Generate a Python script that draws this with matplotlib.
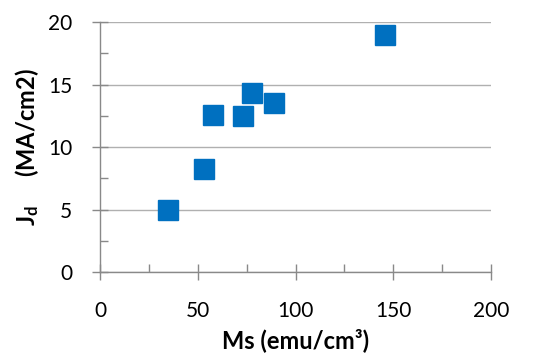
import matplotlib
matplotlib.use('Agg')
import matplotlib.pyplot as plt
from matplotlib.ticker import MultipleLocator

ms = [35, 53, 58, 73, 78, 89, 146]
jd = [5.0, 8.25, 12.55, 12.5, 14.35, 13.5, 19.0]

plt.rcParams['font.family'] = ['Lato', 'DejaVu Sans']
plt.rcParams['mathtext.fontset'] = 'custom'
plt.rcParams['mathtext.rm'] = 'Lato'
plt.rcParams['mathtext.bf'] = 'Lato:bold'

axis_gray = '#898989'
grid_gray = '#b0b0b0'

fig = plt.figure(figsize=(5.44, 3.55), dpi=100)
ax = fig.add_axes([0.1838, 0.2338, 0.7188, 0.7042])

ax.plot(ms, jd, linestyle='none', marker='s', markersize=14.5,
        color='#0070c0', markeredgecolor='#0070c0', zorder=3)

ax.set_xlim(0, 200)
ax.set_ylim(0, 20)
ax.xaxis.set_major_locator(MultipleLocator(50))
ax.xaxis.set_minor_locator(MultipleLocator(25))
ax.yaxis.set_major_locator(MultipleLocator(5))
ax.yaxis.set_minor_locator(MultipleLocator(2.5))

ax.grid(True, which='major', axis='y', color=grid_gray, linewidth=1)
ax.set_axisbelow(True)

for side in ['top', 'right']:
    ax.spines[side].set_visible(False)
for side in ['left', 'bottom']:
    ax.spines[side].set_color(axis_gray)
    ax.spines[side].set_linewidth(1)

ax.tick_params(which='major', direction='inout', length=12, width=1,
               color=axis_gray, labelsize=15, labelcolor='#000000')
ax.tick_params(which='minor', direction='in', length=6, width=1, color=axis_gray)
ax.tick_params(axis='y', which='major', pad=14)
ax.tick_params(axis='x', which='major', pad=15)

ax.set_xlabel('Ms (emu/cm\u00b3)', fontsize=17, fontweight='bold', labelpad=5)
ax.set_ylabel(r'$\mathbf{J_d}$     (MA/cm2)', fontsize=17, fontweight='bold', labelpad=5)

fig.savefig('out.png', dpi=100)
